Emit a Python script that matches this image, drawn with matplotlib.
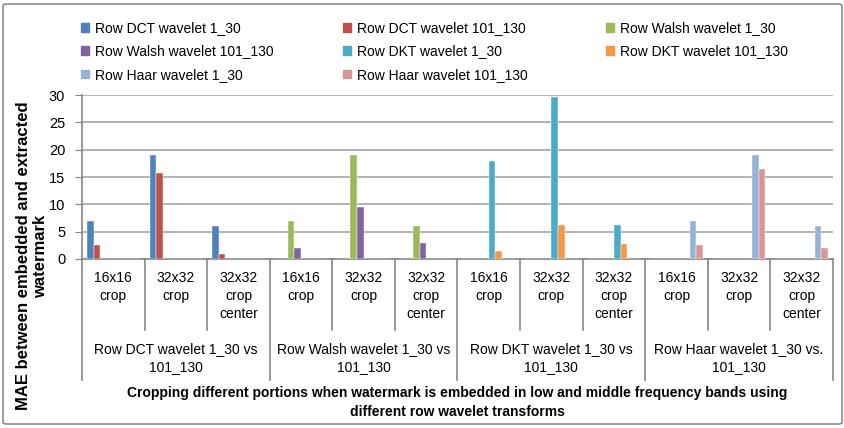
import numpy as np
import matplotlib
matplotlib.use('Agg')
import matplotlib.pyplot as plt
import matplotlib.transforms as mtransforms
from matplotlib.patches import Rectangle, FancyBboxPatch

plt.rcParams['font.family'] = ['Liberation Sans', 'DejaVu Sans']

crops = ['16x16\ncrop', '32x32\ncrop', '32x32\ncrop\ncenter']
groups = ['Row DCT wavelet 1_30 vs\n101_130', 'Row Walsh wavelet 1_30 vs\n101_130',
          'Row DKT wavelet 1_30 vs\n101_130', 'Row Haar wavelet 1_30 vs.\n101_130']

series_names = ['Row DCT wavelet 1_30', 'Row DCT wavelet 101_130',
                'Row Walsh wavelet 1_30', 'Row Walsh wavelet 101_130',
                'Row DKT wavelet 1_30', 'Row DKT wavelet 101_130',
                'Row Haar wavelet 1_30', 'Row Haar wavelet 101_130']
colors = ['#4F81BD', '#C0504D', '#9BBB59', '#8064A2',
          '#4BACC6', '#F79646', '#95B3D7', '#D99694']

# MAE per crop, only the group's own two series have values
dct_1_30 = [7.0, 19.0, 6.0]
dct_101_130 = [2.6, 15.8, 0.9]
walsh_1_30 = [7.0, 19.1, 6.0]
walsh_101_130 = [2.1, 9.5, 3.0]
dkt_1_30 = [18.0, 29.6, 6.3]
dkt_101_130 = [1.4, 6.2, 2.8]
haar_1_30 = [7.0, 19.1, 6.0]
haar_101_130 = [2.6, 16.5, 2.0]

per_series = [dct_1_30, dct_101_130, walsh_1_30, walsh_101_130,
              dkt_1_30, dkt_101_130, haar_1_30, haar_101_130]

n_cat = len(groups) * len(crops)
values = []
for k, vals in enumerate(per_series):
    row = [0.0] * n_cat
    g = k // 2
    for j, v in enumerate(vals):
        row[g * 3 + j] = v
    values.append(row)

W, H = 845, 428
fig = plt.figure(figsize=(W / 100, H / 100), dpi=100)

# outer chart border
fig.patches.append(FancyBboxPatch((3 / W, 4 / H), 839 / W, 420 / H,
                                  boxstyle='round,pad=0,rounding_size=0.004',
                                  transform=fig.transFigure, fill=False,
                                  edgecolor='#8c8c8c', linewidth=1.2))

ax = fig.add_axes([82 / W, 1 - 259 / H, (833 - 82) / W, (259 - 95) / H])

x = np.arange(n_cat)
w = 1 / 9.5
bars = []
for k in range(8):
    off = -0.5 + 0.75 * w + (k + 0.5) * w
    b = ax.bar(x + off, values[k], width=w, color=colors[k],
               edgecolor='white', linewidth=0.3, zorder=3)
    bars.append(b)

ax.set_xlim(-0.5, n_cat - 0.5)
ax.set_ylim(0, 30)
ax.set_yticks(range(0, 31, 5))
ax.tick_params(axis='y', labelsize=10.5, length=5, color='#868686', pad=7)
ax.set_xticks([])
ax.grid(axis='y', color='#a6a6a6', linewidth=1.2, zorder=0)
for s in ['top', 'right']:
    ax.spines[s].set_visible(False)
ax.spines['left'].set_color('#868686')
ax.spines['bottom'].set_color('#868686')
ax.spines['left'].set_linewidth(1.2)
ax.spines['bottom'].set_linewidth(1.2)

# multi-level category axis
tr = mtransforms.blended_transform_factory(ax.transData, fig.transFigure)
def fy(py):
    return 1 - py / H

for i in range(n_cat + 1):
    xb = i - 0.5
    bottom = 380 if i % 3 == 0 else 330
    ax.plot([xb, xb], [fy(259), fy(bottom)], transform=tr, color='#868686',
            linewidth=1.2, clip_on=False)

for i in range(n_cat):
    ax.text(i, fy(271), crops[i % 3], transform=tr, ha='center', va='top',
            fontsize=10, linespacing=1.35)

for g, name in enumerate(groups):
    ax.text(g * 3 + 1, fy(342), name, transform=tr, ha='center', va='top',
            fontsize=10, linespacing=1.35)

fig.text((82 + 833) / 2 / W, fy(386),
         'Cropping different portions when watermark is embedded in low and middle frequency bands using\n'
         'different row wavelet transforms',
         ha='center', va='top', fontsize=10, fontweight='bold', linespacing=1.45)

fig.text(32 / W, fy(256), 'MAE between embedded and extracted\nwatermark',
         rotation=90, ha='center', va='center', fontsize=12, fontweight='bold',
         linespacing=1.15)

# legend: Excel fills rows first, so build one legend per column
col_x = [81, 343, 606]
for c in range(3):
    idx = [k for k in range(8) if k % 3 == c]
    handles = [Rectangle((0, 0), 1, 1, color=colors[k]) for k in idx]
    labels = [series_names[k] for k in idx]
    fig.legend(handles, labels, loc='upper left',
               bbox_to_anchor=(col_x[c] / W, fy(21)), frameon=False,
               fontsize=10, handlelength=0.6, handleheight=0.6,
               handletextpad=0.4, labelspacing=0.68, borderpad=0,
               borderaxespad=0)

fig.savefig('out.png', dpi=100)
